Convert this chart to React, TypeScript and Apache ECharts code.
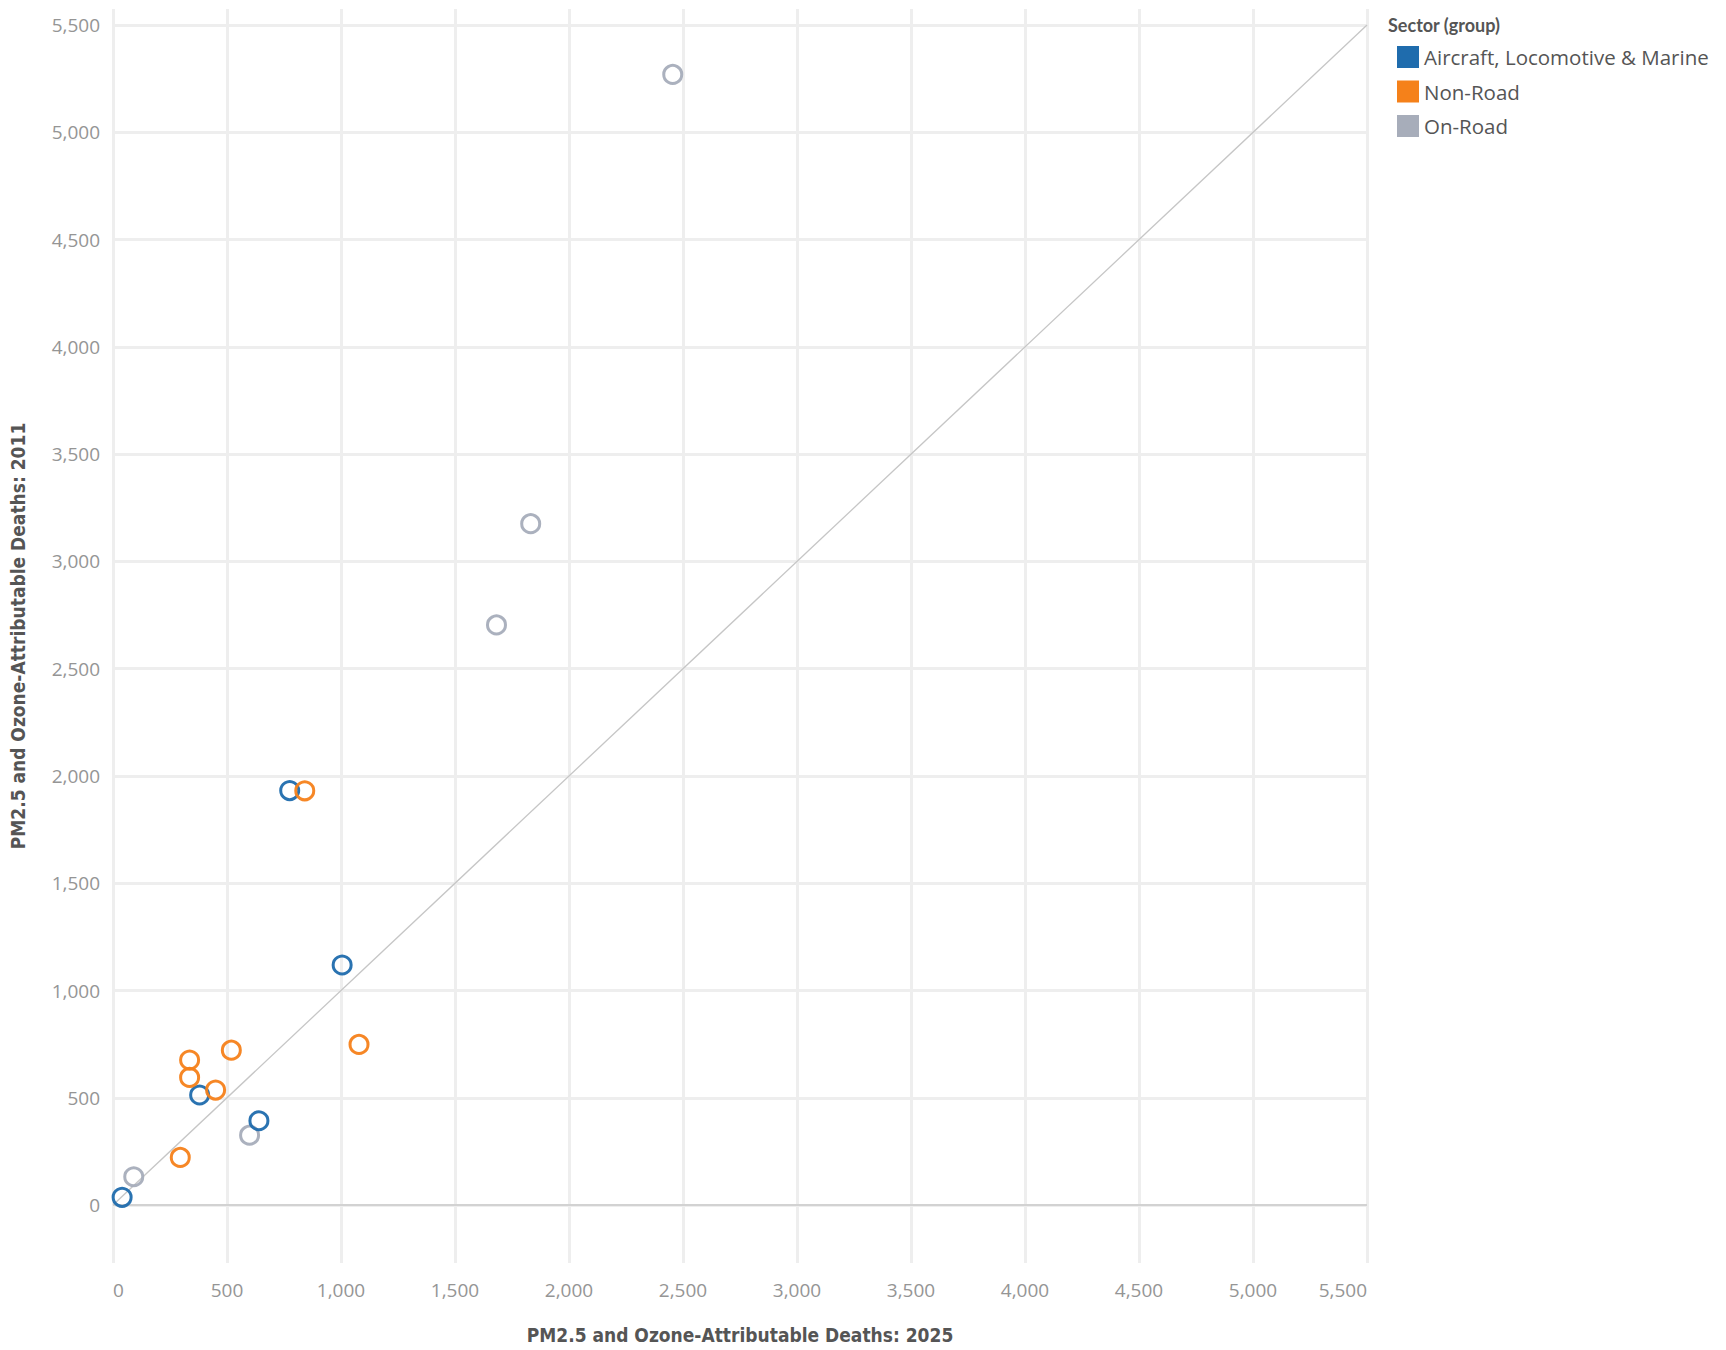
import React, { useEffect, useRef } from "react";
import * as echarts from "echarts";

const sectors = ["Aircraft, Locomotive & Marine", "Non-Road", "On-Road"];
const sectorColors = ["#1f6cad", "#f5811a", "#a7adba"];
const aircraftPoints = [
  [775, 1932],
  [1005, 1119],
  [380, 513],
  [640, 393],
  [40, 36],
];
const nonRoadPoints = [
  [841, 1931],
  [336, 676],
  [336, 595],
  [519, 722],
  [450, 536],
  [1079, 749],
  [295, 222],
];
const onRoadPoints = [
  [2455, 5270],
  [1832, 3176],
  [1682, 2704],
  [599, 326],
  [91, 132],
];
const tickValues = [0, 500, 1000, 1500, 2000, 2500, 3000, 3500, 4000, 4500, 5000, 5500];
const diagonal = [
  [0, 0],
  [5500, 5500],
];
const xAxisTitle = "PM2.5 and Ozone-Attributable Deaths: 2025";
const yAxisTitle = "PM2.5 and Ozone-Attributable Deaths: 2011";
const legendTitle = "Sector (group)";

const fmt = (v: number) => v.toLocaleString("en-US");

export default function App() {
  const ref = useRef<HTMLDivElement>(null);
  useEffect(() => {
    if (!ref.current) return;
    const chart = echarts.init(ref.current, null, { renderer: "svg" });
    const pointSets = [aircraftPoints, nonRoadPoints, onRoadPoints];
    const zs = [3, 4, 2];
    const scatterSeries = sectors.map((name, i) => ({
      name,
      type: "scatter",
      data: pointSets[i],
      symbol: "circle",
      symbolSize: 18,
      z: zs[i],
      itemStyle: {
        color: "rgba(255,255,255,0)",
        borderColor: sectorColors[i],
        borderWidth: 3,
        opacity: 0.95,
      },
      ...(i === 0
        ? {
            markLine: {
              silent: true,
              symbol: "none",
              label: { show: false },
              lineStyle: { color: "#c9c9c9", width: 1.5, type: "solid" },
              data: [{ yAxis: 0 }],
              z: 1,
            },
          }
        : {}),
    }));
    const labelStyle = {
      color: "#959595",
      fontSize: 19,
      fontFamily: "'Open Sans', Lato, sans-serif",
    };
    const nameStyle = {
      color: "#555",
      fontSize: 19,
      fontWeight: "bold",
      fontFamily: "'Liberation Sans Narrow', 'DejaVu Sans Condensed', 'Noto Sans', sans-serif",
    };
    chart.setOption({
      animation: false,
      backgroundColor: "#ffffff",
      grid: { left: 113, right: 359, top: 9, bottom: 87 },
      xAxis: {
        type: "value",
        min: 0,
        max: 5500,
        interval: 500,
        name: xAxisTitle,
        nameLocation: "middle",
        nameGap: 62,
        nameTextStyle: nameStyle,
        axisLine: { show: false },
        axisTick: { show: false },
        axisLabel: {
          ...labelStyle,
          margin: 17,
          formatter: fmt,
          alignMinLabel: "left",
          alignMaxLabel: "right",
        },
        splitLine: { show: true, lineStyle: { color: "#eeeeee", width: 3 } },
      },
      yAxis: {
        type: "value",
        min: -270,
        max: 5575,
        name: yAxisTitle,
        nameLocation: "middle",
        nameGap: 86,
        nameTextStyle: nameStyle,
        axisLine: { show: false },
        axisTick: { show: false, customValues: tickValues },
        axisLabel: { ...labelStyle, margin: 13, formatter: fmt, customValues: tickValues },
        splitLine: { show: true, lineStyle: { color: "#eeeeee", width: 3 } },
      },
      legend: {
        orient: "vertical",
        left: 1392,
        top: 41,
        icon: "rect",
        itemWidth: 22,
        itemHeight: 22,
        itemGap: 12.5,
        selectedMode: false,
        textStyle: { color: "#555", fontSize: 20.5, fontFamily: "'Open Sans', Lato, sans-serif" },
        data: sectors.map((name, i) => ({
          name,
          itemStyle: { color: sectorColors[i], borderWidth: 0, opacity: 1 },
        })),
      },
      graphic: [
        {
          type: "text",
          left: 1388,
          top: 16,
          style: {
            text: legendTitle,
            fill: "#555",
            fontSize: 18,
            fontWeight: "bold",
            fontFamily: "Lato, 'Open Sans', sans-serif",
          },
        },
      ],
      series: [
        {
          name: "diagonal",
          type: "line",
          data: diagonal,
          showSymbol: false,
          silent: true,
          z: 1,
          lineStyle: { color: "#c6c6c6", width: 1.3 },
        },
        ...scatterSeries,
      ],
    });
    return () => chart.dispose();
  }, []);
  return (
    <div
      ref={ref}
      style={{ position: "absolute", left: 0, top: 0, width: 1726, height: 1350 }}
    />
  );
}
